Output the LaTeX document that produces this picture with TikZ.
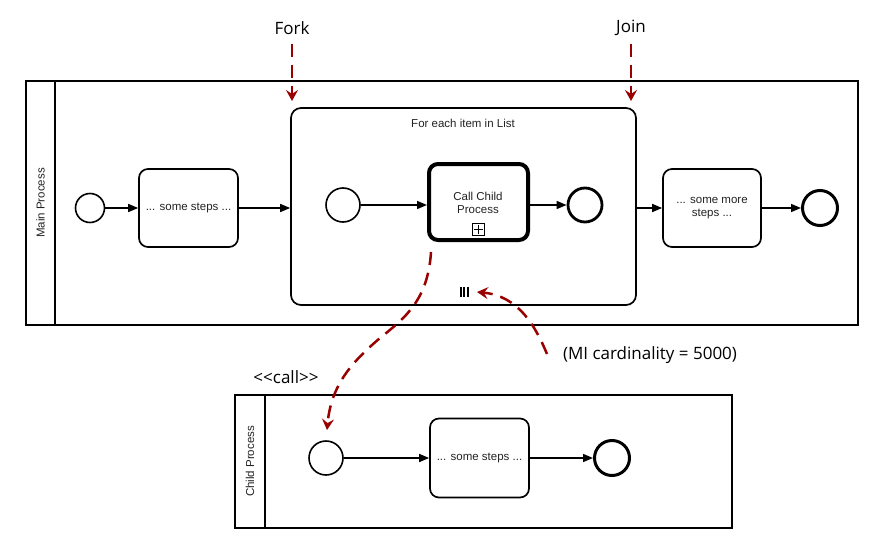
\documentclass[tikz,border=0pt]{standalone}
\usepackage{fontspec}
\setmainfont{Liberation Sans}
\newfontfamily\notefont{Open Sans}
\usetikzlibrary{arrows.meta}
\definecolor{darkred}{HTML}{990000}
\definecolor{txt}{HTML}{222222}
\begin{document}
\begin{tikzpicture}[x=1pt,y=-1pt,
  box/.style={draw,line width=1.7pt,rounded corners=9pt,align=center,text=txt,font=\fontsize{11.5}{13.5}\selectfont,inner sep=0pt},
  startev/.style={draw,circle,line width=1.6pt,inner sep=0pt},
  endev/.style={draw,circle,line width=3pt,inner sep=0pt},
  flow/.style={line width=1.6pt,-{Triangle[length=10pt,width=8pt]}},
  note/.style={font=\notefont\fontsize{17}{20}\selectfont},
  ann/.style={draw=darkred,line width=2.5pt,dash pattern=on 13pt off 8pt,-{Stealth[length=11pt,width=12pt,inset=4pt]}},
  pool/.style={draw,line width=1.7pt,inner sep=0pt},
  lbl/.style={font=\fontsize{11.5}{13.5}\selectfont,text=txt}]
\useasboundingbox (0,0) rectangle (883,551);
% main pool
\node[pool,minimum width=29pt,minimum height=244pt] (mainhead) at (40.5,203) {};
\node[pool,minimum width=803pt,minimum height=244pt] (mainbody) at (456.5,203) {};
\node[lbl,rotate=90] (mainlbl) at (mainhead.center) {Main Process};
% child pool
\node[pool,minimum width=30pt,minimum height=133pt] (childhead) at (250,461.5) {};
\node[pool,minimum width=467pt,minimum height=133pt] (childbody) at (498.5,461.5) {};
\node[lbl,rotate=90] (childlbl) at (childhead.center) {Child Process};
% main flow
\node[startev,minimum size=29pt] (s1) at (90,208) {};
\node[box,minimum width=99pt,minimum height=78pt] (t1) at (188.5,208) {... some steps ...};
\node[draw,line width=1.7pt,rounded corners=10pt,minimum width=345pt,minimum height=197pt,inner sep=0pt] (sub) at (463.5,206.5) {};
\node[lbl] (sublbl) at (463,123) {For each item in List};
\node[startev,minimum size=34pt] (s2) at (343,205) {};
\node[box,line width=4pt,minimum width=99pt,minimum height=76pt] (call) at (478.5,202) {};
\node[lbl,align=center] (calllbl) at (478,203) {Call Child\\Process};
\node[draw,line width=1.1pt,minimum size=12.5pt,inner sep=0pt] (plus) at (478.5,229.5) {};
\draw[line width=1.4pt] ([yshift=-4.5pt]plus.center) -- ([yshift=4.5pt]plus.center)
  ([xshift=-4.5pt]plus.center) -- ([xshift=4.5pt]plus.center);
\node[endev,minimum size=34pt,line width=2.8pt] (e2) at (585,205) {};
\node[box,minimum width=98pt,minimum height=78pt] (t2) at (712,208) {... some more\\steps ...};
\node[endev,minimum size=35pt] (e1) at (820,208) {};
\draw[flow] (s1) -- (t1);
\draw[flow] (t1) -- (t1 -| sub.west);
\draw[flow] (s2) -- (s2 -| call.west);
\draw[flow] (call.east |- e2) -- (e2);
\draw[flow] (t2 -| sub.east) -- (t2);
\draw[flow] (t2) -- (e1);
% MI marker
\draw[line width=2pt] (460.5,287) -- (460.5,297) (464,287) -- (464,297) (467.5,287) -- (467.5,297);
% child flow
\node[startev,minimum size=34pt] (s3) at (326,458) {};
\node[box,minimum width=99pt,minimum height=79pt] (t3) at (479.5,458) {... some steps ...};
\node[endev,minimum size=35pt] (e3) at (612,458) {};
\draw[flow] (s3) -- (t3);
\draw[flow] (t3) -- (e3);
% annotations
\node[note] (fork) at (292,28) {Fork};
\node[note] (join) at (631,28) {Join};
\node[note] (callt) at (286,377) {<<call>>};
\node[note] (card) at (650,355) {(MI cardinality = 5000)};
\coordinate (forkend) at (292,101);
\coordinate (joinend) at (631,101);
\draw[ann] (292,44) -- (forkend);
\draw[ann] (631,44) -- (joinend);
\coordinate (callstart) at (431,252);
\coordinate (calltip) at (327,430);
\draw[ann] (callstart) .. controls (428,300) and (405,318) .. (380,338)
  .. controls (352,362) and (331,385) .. (calltip);
\coordinate (mitip) at (477,292);
\draw[ann] (547,354) .. controls (535,325) and (518,296) .. (mitip);
\end{tikzpicture}
\end{document}
